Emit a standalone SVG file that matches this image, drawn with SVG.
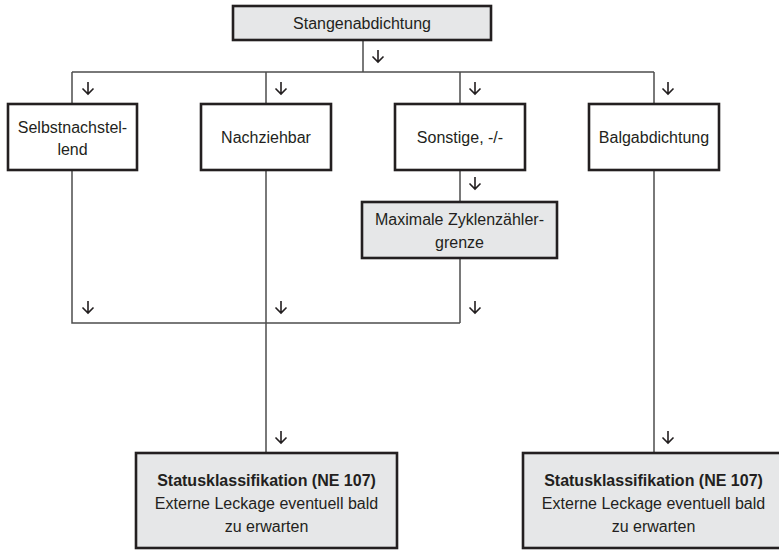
<svg xmlns="http://www.w3.org/2000/svg" xmlns:xlink="http://www.w3.org/1999/xlink" width="779" height="551" viewBox="0 0 779 551">
<style>
.box{stroke:#231f20;stroke-width:2.6}
.w{fill:#ffffff}
.g{fill:#e6e7e8}
.t{font-family:"Liberation Sans",Arial,sans-serif;font-size:16px;fill:#231f20;text-anchor:middle}
.b{font-weight:bold}
.ln{stroke:#4d4d4d;stroke-width:1.5;fill:none}
.ar{stroke:#231f20;stroke-width:1.6;fill:none}
</style>
<defs>
<path id="arr" class="ar" d="M0,0 V12 M-5.5,6.5 L0,12 L5.5,6.5"/>
</defs>
<rect width="779" height="551" fill="#ffffff"/>
<g id="connectors">
<path class="ln" d="M363,40 V72 M72,72 H654 M72,72 V103 M266,72 V103 M460,72 V103 M654,72 V103"/>
<path class="ln" d="M460,170 V202 M460,258 V323 M72,170 V323 H460 M266,170 V452 M654,170 V452"/>
<use xlink:href="#arr" x="378" y="50"/>
<use xlink:href="#arr" x="88" y="82"/>
<use xlink:href="#arr" x="281" y="82"/>
<use xlink:href="#arr" x="475" y="82"/>
<use xlink:href="#arr" x="668" y="82"/>
<use xlink:href="#arr" x="475" y="177"/>
<use xlink:href="#arr" x="88" y="301"/>
<use xlink:href="#arr" x="281" y="301"/>
<use xlink:href="#arr" x="475" y="301"/>
<use xlink:href="#arr" x="281" y="431"/>
<use xlink:href="#arr" x="668" y="431"/>
</g>
<g id="n-stangen">
<rect class="box g" x="233" y="6" width="258" height="34"/>
<text class="t" x="362" y="29">Stangenabdichtung</text>
</g>
<g id="n-selbst">
<rect class="box w" x="8" y="104" width="129" height="66"/>
<text class="t" x="72.5" y="133">Selbstnachstel-</text>
<text class="t" x="72.5" y="155">lend</text>
</g>
<g id="n-nachzieh">
<rect class="box w" x="201" y="104" width="130" height="66"/>
<text class="t" x="266" y="143">Nachziehbar</text>
</g>
<g id="n-sonstige">
<rect class="box w" x="395" y="104" width="130" height="66"/>
<text class="t" x="460" y="143">Sonstige, -/-</text>
</g>
<g id="n-balg">
<rect class="box w" x="589" y="104" width="130" height="66"/>
<text class="t" x="654" y="143">Balgabdichtung</text>
</g>
<g id="n-max">
<rect class="box g" x="362" y="202" width="195" height="56"/>
<text class="t" x="459.5" y="225">Maximale Zyklenzähler-</text>
<text class="t" x="459.5" y="248">grenze</text>
</g>
<g id="n-status1">
<rect class="box g" x="136" y="453" width="261" height="95"/>
<text class="t b" x="266.5" y="486">Statusklassifikation (NE 107)</text>
<text class="t" x="266.5" y="509">Externe Leckage eventuell bald</text>
<text class="t" x="266.5" y="532">zu erwarten</text>
</g>
<g id="n-status2">
<rect class="box g" x="523" y="453" width="261" height="95"/>
<text class="t b" x="653.5" y="486">Statusklassifikation (NE 107)</text>
<text class="t" x="653.5" y="509">Externe Leckage eventuell bald</text>
<text class="t" x="653.5" y="532">zu erwarten</text>
</g>
</svg>
